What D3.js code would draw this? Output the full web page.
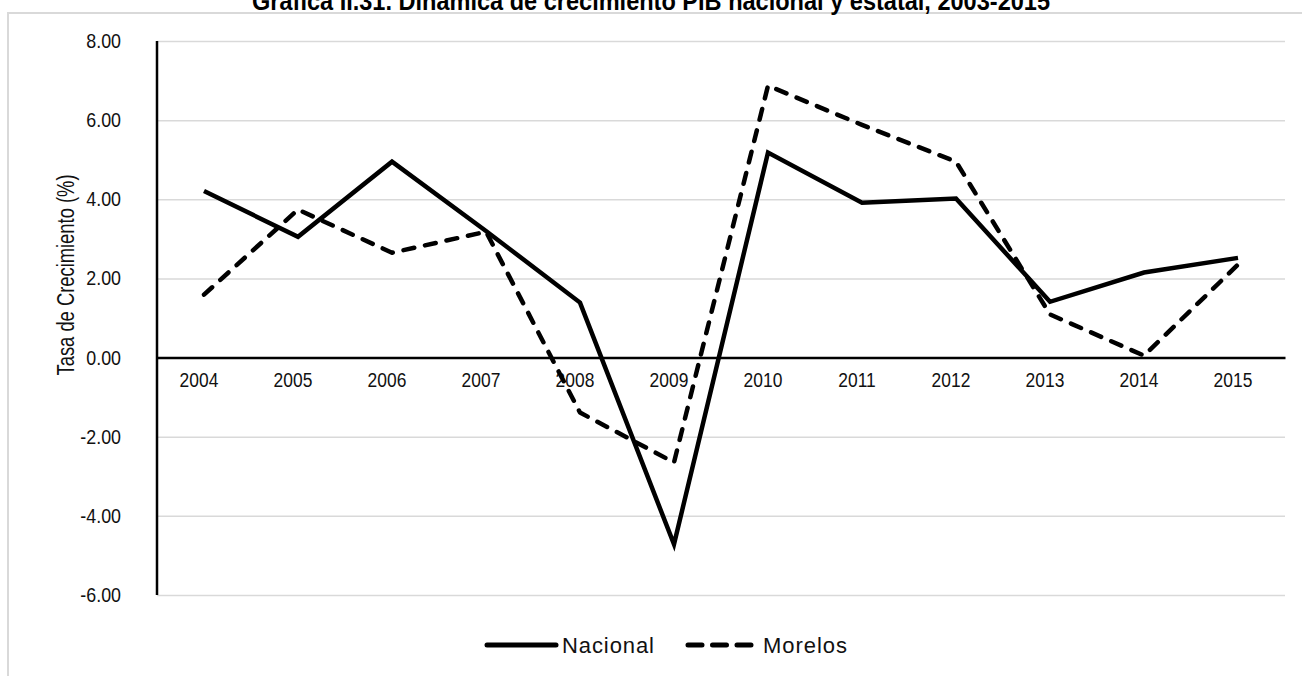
<!DOCTYPE html>
<html><head><meta charset="utf-8">
<script src="https://cdn.jsdelivr.net/npm/d3@7"></script>
<style>
html,body{margin:0;padding:0;background:#fff;}
svg{display:block;font-family:"Liberation Sans",Arial,sans-serif;}
</style></head>
<body><svg id="c" width="1302" height="676"></svg>
<script>
const years = ["2004","2005","2006","2007","2008","2009","2010","2011","2012","2013","2014","2015"];
const nacional = [4.21,3.05,4.95,3.2,1.39,-4.72,5.18,3.91,4.02,1.41,2.15,2.52];
const morelos = [1.59,3.74,2.65,3.18,-1.39,-2.65,6.87,5.88,4.95,1.09,0.05,2.35];
const yTicks = [8,6,4,2,0,-2,-4,-6];
const seriesNames = ["Nacional","Morelos"];
const titleText = "Gráfica II.31. Dinámica de crecimiento PIB nacional y estatal, 2003-2015";
const yTitle = "Tasa de Crecimiento (%)";

(function(){
const svg = d3.select("#c");
const pL = 157, pR = 1285, pT = 41, pB = 595;
const FF = "Liberation Sans, Arial, sans-serif";

function condense(sel, k, mode){
  sel.each(function(){
    const w = this.getComputedTextLength();
    this.setAttribute("textLength", (w*k).toFixed(2));
    this.setAttribute("lengthAdjust", mode || "spacingAndGlyphs");
  });
}

svg.append("rect").attr("x",8).attr("y",13).attr("width",1400).attr("height",800)
  .attr("fill","none").attr("stroke","#d9d9d9").attr("stroke-width",2);

const t = svg.append("text").attr("x",651).attr("y",10).attr("text-anchor","middle")
  .attr("font-weight","bold").attr("font-size",26).attr("fill","#000").text(titleText);
t.attr("textLength",798).attr("lengthAdjust","spacingAndGlyphs");

const x = d3.scaleBand().domain(years).range([pL,pR]);
const y = d3.scaleLinear().domain([-6,8]).range([pB,pT]);

const fmt = d => d3.format(".2f")(d).replace("\u2212","-");
const yAxis = d3.axisLeft(y).tickValues(yTicks).tickSize(-(pR-pL)).tickFormat(fmt);
const gy = svg.append("g").attr("transform",`translate(${pL},0)`).call(yAxis);
gy.select(".domain").remove();
gy.selectAll(".tick line").attr("stroke","#d9d9d9").attr("stroke-width",1.5);
gy.selectAll(".tick text").attr("x",-36).attr("font-size",20.5).attr("fill","#111")
  .attr("font-family",FF);
condense(gy.selectAll(".tick text"),0.87);

svg.append("line").attr("x1",pL).attr("x2",pL).attr("y1",y(8)).attr("y2",y(-6))
  .attr("stroke","#000").attr("stroke-width",2.5);

const xAxis = d3.axisBottom(x).tickSize(0).tickPadding(15);
const gx = svg.append("g").attr("transform",`translate(0,${y(0)})`).call(xAxis);
gx.select(".domain").attr("stroke","#000").attr("stroke-width",2.5);
gx.selectAll(".tick text").attr("font-size",20.5).attr("fill","#111")
  .attr("font-family",FF).attr("dx",-5);
condense(gx.selectAll(".tick text"),0.85);

svg.append("text").attr("transform",`translate(74,275) rotate(-90)`)
  .attr("text-anchor","middle").attr("font-size",23).attr("fill","#111").text(yTitle)
  .attr("textLength",201).attr("lengthAdjust","spacingAndGlyphs");

const line = d3.line().x((d,i)=>x(years[i])+x.bandwidth()/2).y(d=>y(d));
svg.append("path").datum(nacional).attr("d",line).attr("fill","none")
  .attr("stroke","#000").attr("stroke-width",4.5).attr("stroke-linejoin","miter");
svg.append("path").datum(morelos).attr("d",line).attr("fill","none")
  .attr("stroke","#000").attr("stroke-width",4.5).attr("stroke-dasharray","11,11")
  .attr("stroke-linecap","round").attr("stroke-linejoin","round");

const lg = svg.append("g");
lg.append("line").attr("x1",487).attr("x2",556).attr("y1",645).attr("y2",645)
  .attr("stroke","#000").attr("stroke-width",5).attr("stroke-linecap","round");
lg.append("text").attr("x",562).attr("y",653).attr("font-size",22).attr("fill","#111").text(seriesNames[0])
  .attr("textLength",92).attr("lengthAdjust","spacing");
lg.append("line").attr("x1",688).attr("x2",751).attr("y1",645).attr("y2",645)
  .attr("stroke","#000").attr("stroke-width",5).attr("stroke-linecap","round")
  .attr("stroke-dasharray","14,10.5");
lg.append("text").attr("x",763).attr("y",653).attr("font-size",22).attr("fill","#111").text(seriesNames[1])
  .attr("textLength",84).attr("lengthAdjust","spacing");
})();
</script></body></html>
